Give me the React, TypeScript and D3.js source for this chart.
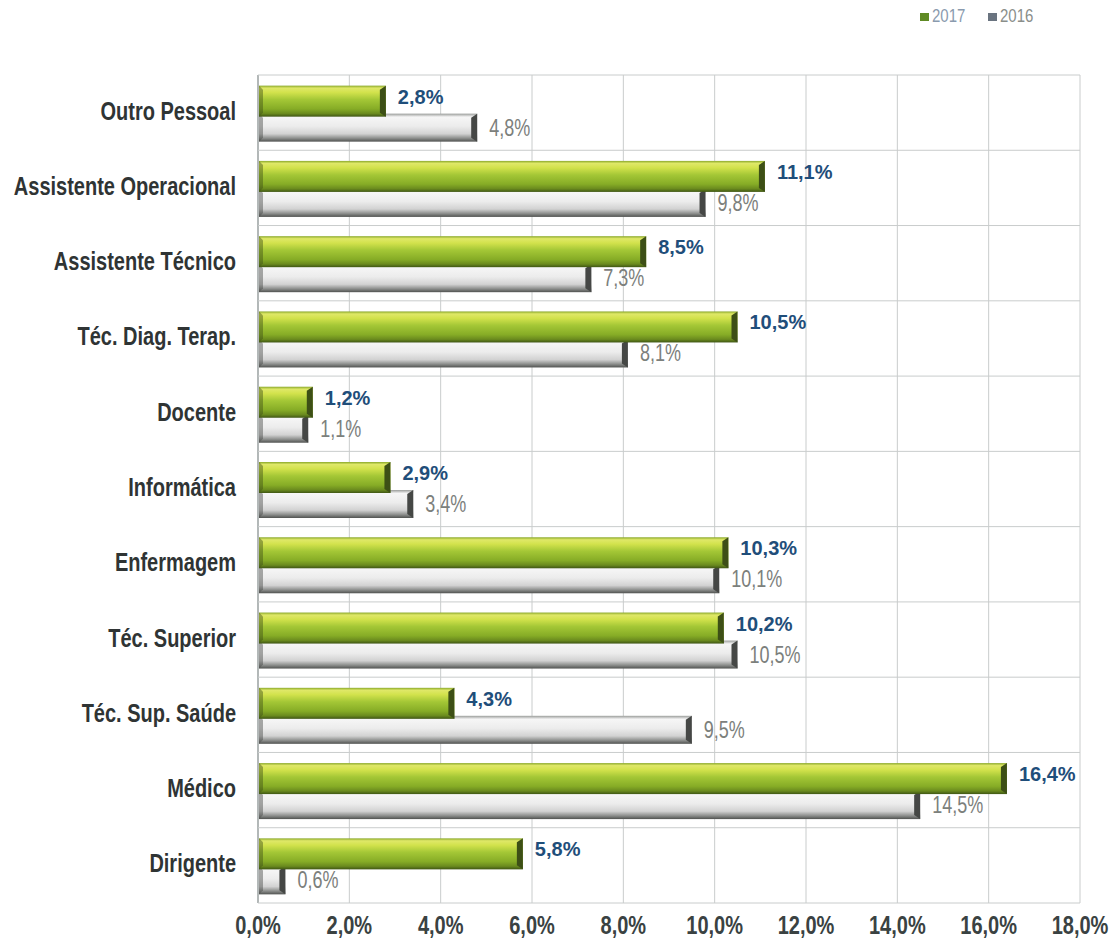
import React, { useRef, useEffect } from "react";
import * as d3 from "d3";

const categories = [
  "Outro Pessoal",
  "Assistente Operacional",
  "Assistente Técnico",
  "Téc. Diag. Terap.",
  "Docente",
  "Informática",
  "Enfermagem",
  "Téc. Superior",
  "Téc. Sup. Saúde",
  "Médico",
  "Dirigente",
];
const values2017 = [2.8, 11.1, 8.5, 10.5, 1.2, 2.9, 10.3, 10.2, 4.3, 16.4, 5.8];
const values2016 = [4.8, 9.8, 7.3, 8.1, 1.1, 3.4, 10.1, 10.5, 9.5, 14.5, 0.6];
const xTicks = [0, 2, 4, 6, 8, 10, 12, 14, 16, 18];
const seriesNames = ["2017", "2016"];

const FONT = "'Liberation Sans', Arial, sans-serif";
const fmt = (v: number) => d3.format(".1f")(v).replace(".", ",") + "%";

const App = () => {
  const svgRef = useRef<SVGSVGElement>(null);
  const width = 1114;
  const height = 945;
  const margin = { top: 75, right: 34, bottom: 42, left: 258 };

  useEffect(() => {
    const svg = d3.select(svgRef.current);
    svg.selectAll("*").remove();

    const x = d3
      .scaleLinear()
      .domain([0, 18])
      .range([margin.left, width - margin.right]);
    const y = d3
      .scaleBand()
      .domain(categories)
      .range([margin.top, height - margin.bottom]);
    const bw = y.bandwidth();

    // gradients for the bevelled bars
    const defs = svg.append("defs");
    const grad = (id: string, stops: [number, string][]) => {
      const g = defs
        .append("linearGradient")
        .attr("id", id)
        .attr("x1", 0)
        .attr("y1", 0)
        .attr("x2", 0)
        .attr("y2", 1);
      stops.forEach(([o, c]) =>
        g.append("stop").attr("offset", o).attr("stop-color", c)
      );
    };
    grad("gGreen", [
      [0, "#8aa82a"],
      [0.08, "#dfe868"],
      [0.22, "#d2e24c"],
      [0.45, "#a4c736"],
      [0.75, "#86ac26"],
      [0.9, "#6a8a1e"],
      [1, "#3f5614"],
    ]);
    grad("gGrey", [
      [0, "#9a9c9a"],
      [0.12, "#f6f6f6"],
      [0.45, "#ececec"],
      [0.72, "#d2d2d2"],
      [0.88, "#8c8e8c"],
      [1, "#505250"],
    ]);

    // grid
    const grid = svg.append("g");
    grid
      .selectAll("line.v")
      .data(xTicks)
      .join("line")
      .attr("x1", (d) => x(d))
      .attr("x2", (d) => x(d))
      .attr("y1", margin.top)
      .attr("y2", height - margin.bottom)
      .attr("stroke", (d) => (d === 0 ? "#9aa0a0" : "#c9cccc"))
      .attr("stroke-width", (d) => (d === 0 ? 1.5 : 1));
    const hLines = categories.map((c) => y(c)!).concat([height - margin.bottom]);
    grid
      .selectAll("line.h")
      .data(hLines)
      .join("line")
      .attr("x1", margin.left)
      .attr("x2", width - margin.right)
      .attr("y1", (d) => d)
      .attr("y2", (d) => d)
      .attr("stroke", "#c9cccc");

    // bars
    const drawBar = (
      v: number,
      top: number,
      h: number,
      fill: string,
      cap: string
    ) => {
      const x0 = x(0) + 1;
      const x1 = x(v);
      const g = svg.append("g");
      g.append("rect")
        .attr("x", x0)
        .attr("y", top)
        .attr("width", x1 - x0)
        .attr("height", h)
        .attr("fill", fill);
      // right bevel cap
      g.append("polygon")
        .attr(
          "points",
          [
            [x1 - 6, top + 4],
            [x1, top],
            [x1, top + h],
            [x1 - 6, top + h - 4],
          ].join(" ")
        )
        .attr("fill", cap);
      // left bevel
      g.append("polygon")
        .attr(
          "points",
          [
            [x0, top],
            [x0 + 4, top + 4],
            [x0 + 4, top + h - 4],
            [x0, top + h],
          ].join(" ")
        )
        .attr("fill", cap)
        .attr("opacity", 0.45);
    };

    categories.forEach((c, i) => {
      const cy = y(c)! + bw / 2;
      drawBar(values2016[i], cy + 1, 28, "url(#gGrey)", "#454745");
      drawBar(values2017[i], cy - 27, 31, "url(#gGreen)", "#3d4f16");
    });

    const label = (
      txt: string,
      tx: number,
      ty: number,
      size: number,
      weight: string,
      color: string,
      anchor: string,
      sy: number
    ) =>
      svg
        .append("text")
        .attr("transform", `translate(${tx},${ty}) scale(1,${sy})`)
        .attr("font-family", FONT)
        .attr("font-size", size)
        .attr("font-weight", weight)
        .attr("fill", color)
        .attr("text-anchor", anchor)
        .text(txt);

    // value labels
    categories.forEach((c, i) => {
      const cy = y(c)! + bw / 2;
      label(fmt(values2017[i]), x(values2017[i]) + 12, cy - 9, 20, "bold", "#1f4e7a", "start", 1);
      label(fmt(values2016[i]), x(values2016[i]) + 12, cy + 23, 18, "normal", "#7c807c", "start", 1.3);
      // category
      label(c, 236, cy + 7, 20, "bold", "#2f3434", "end", 1.33);
    });

    // x axis tick labels
    xTicks.forEach((t) => {
      label(fmt(t), x(t), 934, 20, "bold", "#3a4242", "middle", 1.31);
    });

    // legend
    const legendX = [920, 988];
    const legendFill = ["#5f8a24", "#6a7480"];
    const legendText = ["#8a9aae", "#8a8e8a"];
    seriesNames.forEach((s, i) => {
      svg
        .append("rect")
        .attr("x", legendX[i])
        .attr("y", 13)
        .attr("width", 9)
        .attr("height", 8)
        .attr("fill", legendFill[i]);
      label(s, legendX[i] + 12, 22, 15, "normal", legendText[i], "start", 1.2);
    });
  }, []);

  return (
    <svg
      ref={svgRef}
      width={width}
      height={height}
      style={{ position: "absolute", left: 0, top: 0, background: "#fff" }}
    ></svg>
  );
};

export default App;
